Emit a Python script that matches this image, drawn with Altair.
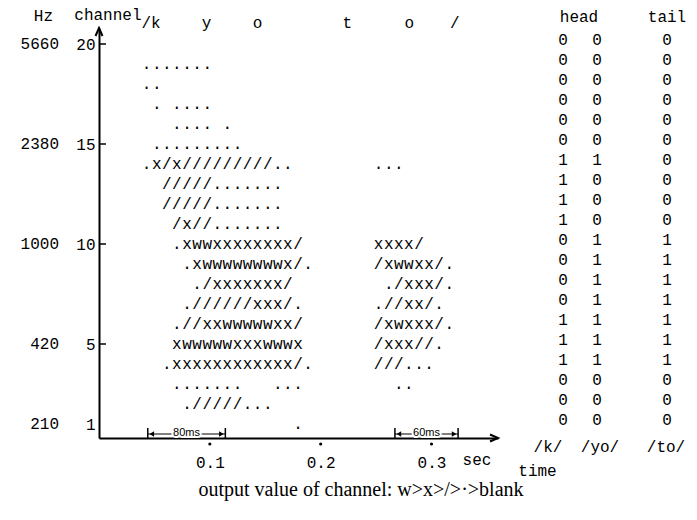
import altair as alt
import pandas as pd

# ---------------- data ----------------
CHANNEL_TICKS = [20, 15, 10, 5, 1]
CHANNEL_INNER_TICKS = [20, 15, 10, 5]
HZ_LABELS = ["5660", "2380", "1000", "420", "210"]
TIME_TICKS = [0.1, 0.2, 0.3]

FRAME_T0 = 0.043     # time of the first typed column (s)
FRAME_STEP = 0.0091  # one typed column (s)

# (channel, first column, typed text)
GRID_SEGMENTS = [
    (19, 0, "......."),
    (18, 0, ".."),
    (17, 1, "."),
    (17, 3, "...."),
    (16, 3, "...."),
    (16, 8, "."),
    (15, 1, "........."),
    (14, 0, ".x/x/////////.."),
    (14, 23, "..."),
    (13, 2, "/////......."),
    (12, 2, "/////......."),
    (11, 3, "/x//......."),
    (10, 3, ".xwwxxxxxxxx/"),
    (10, 23, "xxxx/"),
    (9, 4, ".xwwwwwwwwx/."),
    (9, 23, "/xwwxx/."),
    (8, 5, "./xxxxxxx/"),
    (8, 24, "./xxx/."),
    (7, 4, ".//////xxx/."),
    (7, 23, ".//xx/."),
    (6, 3, ".//xxwwwwwxx/"),
    (6, 23, "/xwxxx/."),
    (5, 3, "xwwwwwxxxwwwx"),
    (5, 23, "/xxx//."),
    (4, 2, ".xxxxxxxxxxxx/."),
    (4, 23, "///..."),
    (3, 3, "......."),
    (3, 13, "..."),
    (3, 25, ".."),
    (2, 4, "./////..."),
    (1, 15, "."),
]

PHONEMES = ["/k", "y", "o", "t", "o", "/"]
PHONEME_TIMES = [0.047, 0.097, 0.143, 0.224, 0.280, 0.321]

TABLE_CHANNELS = list(range(20, 0, -1))
HEAD_K = [0, 0, 0, 0, 0, 0, 1, 1, 1, 1, 0, 0, 0, 0, 1, 1, 1, 0, 0, 0]
HEAD_YO = [0, 0, 0, 0, 0, 0, 1, 0, 0, 0, 1, 1, 1, 1, 1, 1, 1, 0, 0, 0]
TAIL_TO = [0, 0, 0, 0, 0, 0, 0, 0, 0, 0, 1, 1, 1, 1, 1, 1, 1, 0, 0, 0]
TABLE_COLUMNS = ["/k/", "/yo/", "/to/"]

BRACKET_START = [0.044, 0.267]
BRACKET_END = [0.114, 0.324]
BRACKET_LABEL = ["80ms", "60ms"]

CAPTION = "output value of channel: w>x>/>\u00b7>blank"

# ---------------- tables ----------------
rows = []
for ch, start, txt in GRID_SEGMENTS:
    for i, c in enumerate(txt):
        if c != " ":
            rows.append({"channel": ch, "t": FRAME_T0 + (start + i) * FRAME_STEP, "ch": c})
grid_df = pd.DataFrame(rows)

hz_df = pd.DataFrame({"channel": CHANNEL_TICKS, "hz": HZ_LABELS})
inner_df = pd.DataFrame({"channel": CHANNEL_INNER_TICKS})
tick_df = pd.DataFrame({"t": TIME_TICKS})
ph_df = pd.DataFrame({"t": PHONEME_TIMES, "p": PHONEMES})
br_df = pd.DataFrame({"t": BRACKET_START, "t_end": BRACKET_END, "lab": BRACKET_LABEL})
one = pd.DataFrame({"k": [0]})

W, H = 399, 410
MONO = "Liberation Mono"
FS = 16
SX = alt.Scale(domain=[0, 0.36], nice=False, zero=False)
SY = alt.Scale(domain=[0.3, 20.8], nice=False, zero=False)

x_axis = alt.Axis(values=TIME_TICKS, format=".1f", title="time", ticks=False,
                  domainColor="black", domainWidth=2, labelFont=MONO, labelFontSize=FS,
                  labelColor="black", labelPadding=16, grid=False, labelFlush=False,
                  titleFont=MONO, titleFontSize=FS, titleFontWeight="normal",
                  titleColor="black", titleX=438, titleY=32, titleAlign="center",
                  titleBaseline="middle")
y_axis = alt.Axis(values=CHANNEL_TICKS, title="channel", ticks=False,
                  domainColor="black", domainWidth=2, labelFont=MONO, labelFontSize=FS,
                  labelColor="black", labelPadding=4, grid=False, labelFlush=False,
                  titleFont=MONO, titleFontSize=FS, titleFontWeight="normal",
                  titleColor="black", titleAngle=0, titleX=42, titleY=-14,
                  titleAlign="right", titleBaseline="middle")

grid = alt.Chart(grid_df).mark_text(font=MONO, fontSize=FS, color="black",
                                    align="center", baseline="middle").encode(
    x=alt.X("t:Q", scale=SX, axis=x_axis),
    y=alt.Y("channel:Q", scale=SY, axis=y_axis),
    text="ch:N",
)

inner_ticks = alt.Chart(inner_df).mark_rule(color="black", strokeWidth=1.5).encode(
    x=alt.value(0), x2=alt.value(7), y=alt.Y("channel:Q", scale=SY))

up_arrow = alt.Chart(one).mark_point(shape="M-0.7,1.6L0,0L0.7,1.6", filled=False,
                                     stroke="black", strokeWidth=2, size=100, opacity=1).encode(
    x=alt.value(0), y=alt.value(0))
right_arrow = alt.Chart(one).mark_point(shape="M-1.6,-0.7L0,0L-1.6,0.7", filled=False,
                                        stroke="black", strokeWidth=2, size=100, opacity=1).encode(
    x=alt.value(W), y=alt.value(H))

tick_dots = alt.Chart(tick_df).mark_point(filled=True, color="black", size=10, opacity=1).encode(
    x=alt.X("t:Q", scale=SX), y=alt.value(H + 6))

phon = alt.Chart(ph_df).mark_text(font=MONO, fontSize=FS, color="black", baseline="middle").encode(
    x=alt.X("t:Q", scale=SX), y=alt.value(-5), text="p:N")

sec = alt.Chart(one).mark_text(font=MONO, fontSize=FS, color="black", text="sec").encode(
    x=alt.value(378), y=alt.value(432))

br_line = alt.Chart(br_df).mark_rule(color="black", strokeWidth=1.2).encode(
    x=alt.X("t:Q", scale=SX), x2="t_end:Q", y=alt.value(H - 4))
br_bar1 = alt.Chart(br_df).mark_rule(color="black", strokeWidth=1.5).encode(
    x=alt.X("t:Q", scale=SX), y=alt.value(H - 10), y2=alt.value(H))
br_bar2 = alt.Chart(br_df).mark_rule(color="black", strokeWidth=1.5).encode(
    x=alt.X("t_end:Q", scale=SX), y=alt.value(H - 10), y2=alt.value(H))
br_head1 = alt.Chart(br_df).mark_point(shape="triangle-left", filled=True, color="black",
                                       size=28, opacity=1, xOffset=4).encode(
    x=alt.X("t:Q", scale=SX), y=alt.value(H - 4))
br_head2 = alt.Chart(br_df).mark_point(shape="triangle-right", filled=True, color="black",
                                       size=28, opacity=1, xOffset=-4).encode(
    x=alt.X("t_end:Q", scale=SX), y=alt.value(H - 4))
br_base = alt.Chart(br_df).transform_calculate(mid="(datum.t + datum.t_end) / 2")
br_halo = br_base.mark_text(font="Liberation Sans", fontSize=11, stroke="white",
                            strokeWidth=4, color="white", baseline="middle").encode(
    x=alt.X("mid:Q", scale=SX), y=alt.value(H - 5), text="lab:N")
br_text = br_base.mark_text(font="Liberation Sans", fontSize=11, color="black",
                            baseline="middle").encode(
    x=alt.X("mid:Q", scale=SX), y=alt.value(H - 5), text="lab:N")

hz = alt.Chart(hz_df).mark_text(font=MONO, fontSize=FS, color="black", align="right",
                                baseline="middle").encode(
    x=alt.value(-40), y=alt.Y("channel:Q", scale=SY), text="hz:N")
hz_head = alt.Chart(one).mark_text(font=MONO, fontSize=FS, color="black", align="right",
                                   baseline="middle", text="Hz").encode(
    x=alt.value(-46), y=alt.value(-12))

TABLE_X = [464, 498, 568]
table_layers = []
for vals, xp in zip([HEAD_K, HEAD_YO, TAIL_TO], TABLE_X):
    df = pd.DataFrame({"channel": TABLE_CHANNELS, "v": [str(v) for v in vals]})
    table_layers.append(
        alt.Chart(df).mark_text(font=MONO, fontSize=FS, color="black", baseline="middle", dy=-4)
        .encode(x=alt.value(xp), y=alt.Y("channel:Q", scale=SY), text="v:N"))

head_lbl = alt.Chart(one).mark_text(font=MONO, fontSize=FS, color="black", text="head",
                                    baseline="middle").encode(x=alt.value(480), y=alt.value(-11))
tail_lbl = alt.Chart(one).mark_text(font=MONO, fontSize=FS, color="black", text="tail",
                                    baseline="middle").encode(x=alt.value(568), y=alt.value(-11))
bottom_layers = []
for lab, xp in zip(TABLE_COLUMNS, [449, 501, 567]):
    bottom_layers.append(
        alt.Chart(pd.DataFrame({"lab": [lab]})).mark_text(font=MONO, fontSize=FS, color="black",
                                                          baseline="middle")
        .encode(x=alt.value(xp), y=alt.value(H + 9), text="lab:N"))

caption = alt.Chart(one).mark_text(font="Liberation Serif", fontSize=20, color="black",
                                   text=CAPTION, baseline="middle").encode(
    x=alt.value(262), y=alt.value(462))

chart = alt.layer(
    grid, inner_ticks, up_arrow, right_arrow, tick_dots, phon, sec,
    br_line, br_bar1, br_bar2, br_head1, br_head2, br_halo, br_text,
    hz, hz_head, *table_layers, head_lbl, tail_lbl, *bottom_layers, caption,
).properties(
    width=W, height=H,
    padding={"left": 91, "top": 20, "right": 191, "bottom": 74},
    autosize=alt.AutoSizeParams(type="none"),
    background="white",
).configure_view(stroke=None)

chart.save("out.html", embed_options={"renderer": "svg", "actions": False})
